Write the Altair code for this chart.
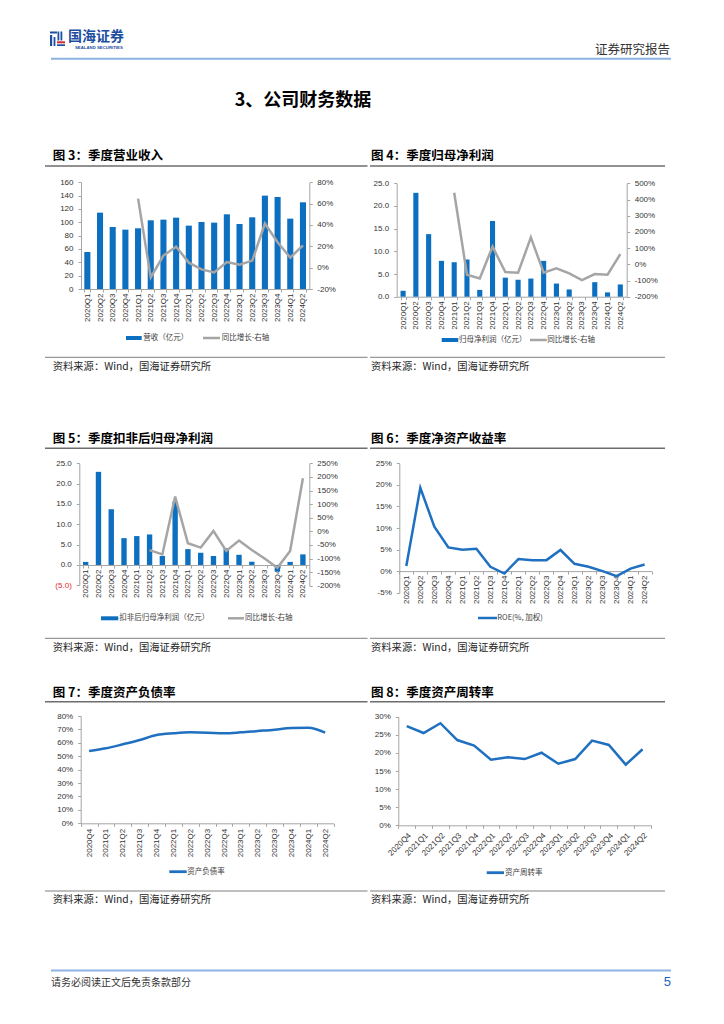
import altair as alt
import pandas as pd

# ---------------- data ----------------
Q18 = ["2020Q1", "2020Q2", "2020Q3", "2020Q4", "2021Q1", "2021Q2", "2021Q3", "2021Q4",
       "2022Q1", "2022Q2", "2022Q3", "2022Q4", "2023Q1", "2023Q2", "2023Q3", "2023Q4",
       "2024Q1", "2024Q2"]
Q15 = Q18[3:]

rev = [55.5, 114.5, 93, 89, 91, 103, 104, 107, 95, 100.5, 99.5, 112, 97.5, 107.5, 140, 138, 105.5, 130]
rev_yoy_q = Q18[4:]
rev_yoy = [64.7, -9.1, 11.3, 19.7, 4.7, -1.6, -4.4, 5.3, 2.8, 6.6, 41.3, 23.8, 9.4, 20.9]

np_profit = [1.3, 22.9, 13.8, 7.9, 7.6, 8.2, 1.5, 16.7, 4.2, 3.75, 4.0, 7.9, 2.9, 1.6, 0.0, 3.2, 0.95, 2.7]
np_yoy_q = Q18[4:]
np_yoy = [442, -64, -87, 109, -48, -52, 166, -52, -25, -56, -97, -60, -64, 63]

dn_profit = [0.75, 22.9, 13.7, 6.6, 7.1, 7.5, 2.2, 15.6, 3.9, 3.0, 2.2, 4.1, 2.5, 0.8, 0.0, -1.6, 0.75, 2.6]
dn_yoy_q = Q18[5:]
dn_yoy = [-69, -85, 128, -44, -60, 1, -72, -34, -69, -100, -134, -72, 195]

roe = [1.2, 19.3, 10.3, 5.5, 4.95, 5.2, 1.0, -0.55, 2.8, 2.5, 2.55, 4.9, 1.7, 1.0, 0.0, -1.15, 0.6, 1.55]
debt = [53.9, 55.9, 58.9, 62.1, 65.8, 67.1, 67.8, 67.6, 67.1, 67.8, 68.8, 69.8, 71.1, 71.3, 67.6]
turnover = [27.4, 25.5, 28.2, 23.55, 22.0, 18.1, 18.8, 18.3, 20.05, 17.0, 18.3, 23.4, 22.2, 16.75, 21.0]

# ---------------- style ----------------
W, H, O = 708, 1008, 8
CJK = "Noto Sans CJK SC"
NUMF = "Liberation Sans"
BLUE = "#0C6FC0"
LBLUE = "#1F70C1"
GRAY = "#A5A5A5"
AXC = "#A6A6A6"
LBL = "#333333"
TXT = "#1a1a1a"
ONE = pd.DataFrame({"k": [0]})


def T(s, x, y, size, color=TXT, weight="normal", align="left", font=CJK):
    return alt.Chart(ONE).mark_text(text=s, align=align, baseline="middle", fontSize=size,
                                    font=font, fontWeight=weight, color=color).encode(
        x=alt.value(x - O), y=alt.value(y - O))


def HR(x1, x2, y, color, w):
    return alt.Chart(ONE).mark_rule(color=color, strokeWidth=w).encode(
        x=alt.value(x1 - O), x2=alt.value(x2 - O), y=alt.value(y - O))


def BOX(x1, x2, y1, y2, color):
    return alt.Chart(ONE).mark_rect(color=color).encode(
        x=alt.value(x1 - O), x2=alt.value(x2 - O), y=alt.value(y1 - O), y2=alt.value(y2 - O))


def yaxis(orient, pos, values, expr, label_color=LBL):
    off = -(pos - O) if orient == "left" else (pos - O) - W
    return alt.Axis(orient=orient, offset=off, values=values, labelExpr=expr, grid=False,
                    domainColor=AXC, tickColor=AXC, tickSize=3, labelFont=NUMF, labelFontSize=8,
                    labelColor=label_color, labelPadding=5 if orient == "left" else 4.5)


def xaxis(ypos, angle=270, pad=1):
    return alt.Axis(orient="bottom", offset=(ypos - O) - H, labelAngle=angle, tickBand="extent",
                    domainColor=AXC, tickColor=AXC, tickSize=3, labelFont=NUMF, labelFontSize=8,
                    labelColor=LBL, labelPadding=pad, grid=False, labelOverlap=False)


def yscale(dom, y0, y1):
    return alt.Scale(domain=dom, range=[y0 - O, y1 - O], nice=False, zero=False)


PCT = "datum.value + '%'"
F1 = "format(datum.value, '.1f')"


def bar_line(qs, bars, lq, lv, xr, pin, ldom, lr, lvals, lexpr, rdom, rr, rvals, xay, lcol=LBL):
    xs = alt.Scale(domain=qs, range=[xr[0] - O, xr[1] - O], paddingInner=pin, paddingOuter=pin / 2)
    ax = xaxis(xay)
    b = alt.Chart(pd.DataFrame({"q": qs, "v": bars})).mark_bar(color=BLUE).encode(
        x=alt.X("q:N", scale=xs, axis=ax, title=None),
        y=alt.Y("v:Q", scale=yscale(ldom, lr[0], lr[1]),
                axis=yaxis("left", xr[0], lvals, lexpr, lcol), title=None))
    l = alt.Chart(pd.DataFrame({"q": lq, "v": lv})).mark_line(color=GRAY, strokeWidth=2.5).encode(
        x=alt.X("q:N", scale=xs, axis=ax, bandPosition=0.5, title=None),
        y=alt.Y("v:Q", scale=yscale(rdom, rr[0], rr[1]),
                axis=yaxis("right", xr[1], rvals, PCT), title=None))
    return alt.layer(b, l).resolve_scale(y="independent")


def line_only(qs, vals, xr, dom, yr, yvals, xay, angle, sw, pad, interp="linear"):
    xs = alt.Scale(type="band", domain=qs, range=[xr[0] - O, xr[1] - O], paddingInner=0, paddingOuter=0)
    return alt.Chart(pd.DataFrame({"q": qs, "v": vals})).mark_line(
        color=LBLUE, strokeWidth=sw, interpolate=interp).encode(
        x=alt.X("q:N", scale=xs, bandPosition=0.5, axis=xaxis(xay, angle, pad), title=None),
        y=alt.Y("v:Q", scale=yscale(dom, yr[0], yr[1]), axis=yaxis("left", xr[0], yvals, PCT), title=None))


layers = []

# ---------------- header / footer ----------------
layers += [
    BOX(50, 57, 31.5, 33.5, "#1d4ea0"), BOX(50, 52.2, 35, 46, "#1d4ea0"),
    BOX(53.6, 55.4, 37, 46, "#1d4ea0"), BOX(57.5, 59.3, 31.5, 40.5, "#1d4ea0"),
    BOX(60.5, 62.3, 31.5, 40.5, "#1d4ea0"), BOX(57, 65, 41.3, 43.3, "#d7262c"),
    BOX(57, 65, 44.3, 46, "#1d4ea0"),
    T("国海证券", 68, 37, 14, "#1d4ea0", "bold"),
    T("SEALAND SECURITIES", 75, 48.3, 4.3, "#1d4ea0", "bold", font=NUMF),
    T("证券研究报告", 670, 50, 12.5, "#333333", align="right"),
    HR(51, 671, 58.8, "#8DB3E2", 2),
    T("3、公司财务数据", 303, 101, 18, "#000000", "bold", align="center"),
    HR(51, 671, 970.5, "#8DB3E2", 2),
    T("请务必阅读正文后免责条款部分", 51, 983, 10, "#333333"),
    T("5", 671, 982, 13, "#1F5FBF", align="right", font=NUMF),
]

# ---------------- panel frames ----------------
LX, RX = (45, 367.5), (370, 665)
rows = [(155.8, 166, 357.3, 366.5), (439, 448.3, 638.3, 647.5), (692.7, 701.7, 891, 900.3)]
titles = [("图 3：季度营业收入", "图 4：季度归母净利润"),
          ("图 5：季度扣非后归母净利润", "图 6：季度净资产收益率"),
          ("图 7：季度资产负债率", "图 8：季度资产周转率")]
SRC = "资料来源：Wind，国海证券研究所"
for (ty, uy, by, sy), (tl, tr) in zip(rows, titles):
    layers += [T(tl, 52.7, ty, 12.5, "#000000", "bold"), T(tr, 371, ty, 12.5, "#000000", "bold"),
               HR(LX[0], LX[1], uy, "#6d6d6d", 1.5), HR(RX[0], RX[1], uy, "#6d6d6d", 1.5),
               HR(LX[0], LX[1], by, "#7f7f7f", 1), HR(RX[0], RX[1], by, "#7f7f7f", 1),
               T(SRC, 52.7, sy, 10.3, "#262626"), T(SRC, 371, sy, 10.3, "#262626")]

# ---------------- charts ----------------
# 图3
layers.append(bar_line(Q18, rev, rev_yoy_q, rev_yoy, (81, 309.3), 0.52,
                       [0, 160], (289, 182.3), list(range(0, 161, 20)), "datum.value",
                       [-20, 80], (289, 182.3), list(range(-20, 81, 20)), 289))
layers += [BOX(126, 141.7, 336, 340, BLUE), T("营收（亿元）", 143.3, 338, 7.5, "#404040"),
           HR(203, 220, 338, GRAY, 2.5), T("同比增长-右轴", 221.7, 338, 7.5, "#404040")]

# 图4
layers.append(bar_line(Q18, np_profit, np_yoy_q, np_yoy, (396.7, 626.7), 0.6,
                       [0, 25], (296.7, 183.3), [0, 5, 10, 15, 20, 25], F1,
                       [-200, 500], (296.7, 183.3), list(range(-200, 501, 100)), 296.7))
layers += [BOX(441.7, 458.3, 338, 342, BLUE), T("归母净利润（亿元）", 459, 340, 7.5, "#404040"),
           HR(530, 546.7, 340, GRAY, 2.5), T("同比增长-右轴", 547.3, 340, 7.5, "#404040")]

# 图5
layers.append(bar_line(Q18, dn_profit, dn_yoy_q, dn_yoy, (79.3, 309.3), 0.58,
                       [-5, 25], (585.3, 463.3), [-5, 0, 5, 10, 15, 20, 25],
                       "datum.value < 0 ? '(' + format(-datum.value, '.1f') + ')' : format(datum.value, '.1f')",
                       [-200, 250], (585.7, 463.3), list(range(-200, 251, 50)), 565,
                       lcol={"condition": {"test": "datum.value < 0", "value": "#E8262A"}, "value": LBL}))
layers += [BOX(101, 118.3, 616.3, 620.3, BLUE), T("扣非后归母净利润（亿元）", 119.3, 618.3, 7.5, "#404040"),
           HR(228, 244, 618.3, GRAY, 2.5), T("同比增长-右轴", 245, 618.3, 7.5, "#404040")]

# 图6
layers.append(line_only(Q18, roe, (399.3, 651.6), [-5, 25], (592.7, 463.3), list(range(-5, 26, 5)),
                        571.1, 270, 2.5, 1))
layers += [HR(478, 497, 618, LBLUE, 2.5), T("ROE(%, 加权)", 497.3, 618, 7.5, "#404040")]

# 图7
layers.append(line_only(Q15, debt, (80.7, 333.6), [0, 80], (823.3, 716), list(range(0, 81, 10)),
                        823.3, 270, 2.5, 2, interp="monotone"))
layers += [HR(169.3, 186.7, 871.7, LBLUE, 2.8), T("资产负债率", 187.3, 871.7, 7.5, "#404040")]

# 图8
layers.append(line_only(Q15, turnover, (398.3, 651), [0, 30], (825.3, 716.7), list(range(0, 31, 5)),
                        825.3, 315, 2.5, 3))
layers += [HR(486.7, 504, 872.7, LBLUE, 2.8), T("资产周转率", 505, 872.7, 7.5, "#404040")]

chart = alt.layer(*layers).resolve_scale(x="independent", y="independent").properties(
    width=W, height=H, padding=0, autosize=alt.AutoSizeParams(type="none"), background="white"
).configure_view(strokeWidth=0)

chart.save("out.html", embed_options={"renderer": "svg", "actions": False})
